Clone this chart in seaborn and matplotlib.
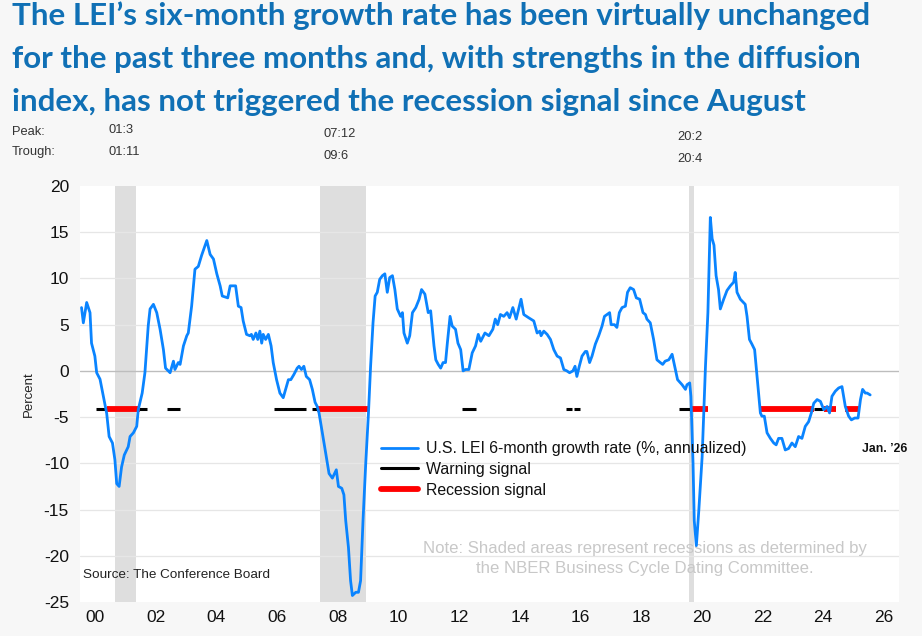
import numpy as np
import pandas as pd
import matplotlib
matplotlib.use("Agg")
import matplotlib.pyplot as plt
from matplotlib.lines import Line2D
import seaborn as sns

# ---------------- data ----------------
lei_year = [
    2000.05, 2000.11, 2000.22, 2000.33, 2000.38, 2000.49, 2000.55, 2000.66, 2000.77, 2000.88,
    2000.96, 2001.07, 2001.15, 2001.21, 2001.29, 2001.37, 2001.46, 2001.59, 2001.65, 2001.76,
    2001.87, 2001.92, 2002.05, 2002.14, 2002.25, 2002.31, 2002.42, 2002.53, 2002.64, 2002.75,
    2002.82, 2002.97, 2003.08, 2003.13, 2003.24, 2003.30, 2003.41, 2003.52, 2003.57, 2003.68,
    2003.79, 2003.90, 2004.01, 2004.18, 2004.29, 2004.40, 2004.51, 2004.62, 2004.69, 2004.87,
    2004.95, 2005.05, 2005.13, 2005.22, 2005.31, 2005.38, 2005.49, 2005.60, 2005.65, 2005.71,
    2005.80, 2005.86, 2005.93, 2005.99, 2006.04, 2006.12, 2006.21, 2006.30, 2006.37, 2006.48,
    2006.59, 2006.70, 2006.87, 2006.95, 2007.05, 2007.16, 2007.22, 2007.30, 2007.38, 2007.46,
    2007.57, 2007.66, 2007.75, 2007.82, 2007.88, 2007.99, 2008.10, 2008.21, 2008.32, 2008.45,
    2008.52, 2008.63, 2008.70, 2008.76, 2008.85, 2008.92, 2008.98, 2009.09, 2009.18, 2009.25,
    2009.33, 2009.42, 2009.51, 2009.58, 2009.66, 2009.73, 2009.80, 2009.88, 2009.97, 2010.05,
    2010.13, 2010.21, 2010.30, 2010.38, 2010.46, 2010.57, 2010.63, 2010.68, 2010.79, 2010.87,
    2010.96, 2011.07, 2011.18, 2011.26, 2011.37, 2011.48, 2011.56, 2011.67, 2011.73, 2011.81,
    2011.89, 2011.97, 2012.05, 2012.11, 2012.20, 2012.27, 2012.38, 2012.46, 2012.55, 2012.63,
    2012.71, 2012.82, 2012.93, 2013.04, 2013.13, 2013.21, 2013.35, 2013.48, 2013.61, 2013.69,
    2013.77, 2013.86, 2013.97, 2014.08, 2014.16, 2014.27, 2014.38, 2014.46, 2014.54, 2014.63,
    2014.79, 2014.96, 2015.07, 2015.16, 2015.20, 2015.29, 2015.40, 2015.51, 2015.62, 2015.73,
    2015.84, 2015.95, 2016.05, 2016.14, 2016.25, 2016.32, 2016.38, 2016.46, 2016.55, 2016.66,
    2016.71, 2016.80, 2016.88, 2016.99, 2017.10, 2017.21, 2017.29, 2017.46, 2017.51, 2017.62,
    2017.70, 2017.78, 2017.87, 2017.98, 2018.05, 2018.14, 2018.25, 2018.34, 2018.45, 2018.56,
    2018.64, 2018.69, 2018.80, 2018.91, 2019.02, 2019.13, 2019.21, 2019.29, 2019.41, 2019.52,
    2019.63, 2019.70, 2019.85, 2019.96, 2020.01, 2020.10, 2020.14, 2020.21, 2020.25, 2020.32,
    2020.40, 2020.51, 2020.62, 2020.70, 2020.75, 2020.78, 2020.84, 2020.90, 2020.97, 2021.05,
    2021.11, 2021.22, 2021.33, 2021.44, 2021.55, 2021.60, 2021.66, 2021.77, 2021.93, 2021.99,
    2022.07, 2022.15, 2022.24, 2022.30, 2022.37, 2022.43, 2022.48, 2022.56, 2022.65, 2022.76,
    2022.87, 2022.95, 2023.03, 2023.14, 2023.25, 2023.36, 2023.47, 2023.58, 2023.69, 2023.80,
    2023.91, 2024.02, 2024.11, 2024.19, 2024.30, 2024.41, 2024.52, 2024.63, 2024.71, 2024.79,
    2024.90, 2025.01, 2025.12, 2025.23, 2025.34, 2025.43, 2025.54, 2025.65, 2025.73, 2025.80,
    2025.89, 2025.95, 2026.05,
]
lei_value = [
    6.85, 5.2, 7.4, 6.3, 3.0, 1.6, -0.2, -0.9, -2.75, -4.6,
    -7.1, -7.8, -9.6, -12.2, -12.5, -10.4, -9.1, -8.2, -7.1, -6.7,
    -6.0, -4.2, -2.4, -0.2, 4.9, 6.7, 7.2, 6.3, 4.5, 2.3,
    0.3, -0.2, 1.05, 0.15, 0.9, 0.7, 2.7, 3.8, 4.1, 7.0,
    11.0, 11.3, 12.5, 14.1, 12.6, 12.1, 10.5, 9.2, 8.1, 7.9,
    9.2, 9.2, 9.2, 7.0, 6.85, 5.4, 3.95, 3.8, 3.95, 3.4,
    4.1, 3.4, 4.3, 3.0, 3.95, 3.4, 3.95, 2.7, 0.9, -0.95,
    -2.4, -2.9, -0.95, -0.95, -0.4, 0.3, 0.5, 0.15, 0.5, -0.6,
    -0.95, -2.0, -3.4, -3.85, -4.55, -6.7, -8.9, -11.1, -11.6, -10.7,
    -12.5, -12.7, -13.4, -16.2, -19.1, -22.7, -24.3, -23.95, -23.95, -22.7,
    -16.2, -10.0, -4.55, 0.5, 5.2, 8.1, 8.5, 9.9, 10.3, 10.5,
    8.5, 10.1, 10.3, 8.8, 6.7, 5.9, 6.3, 4.1, 3.0, 3.8,
    6.3, 6.85, 7.75, 8.8, 8.3, 6.3, 6.5, 2.7, 1.2, 0.7,
    0.3, 0.9, 0.9, 3.0, 5.9, 4.85, 4.5, 3.0, 2.3, 0.0,
    0.15, 0.15, 1.95, 2.7, 3.95, 3.2, 4.1, 3.8, 4.5, 5.6,
    5.0, 6.1, 5.9, 6.3, 5.75, 6.85, 5.6, 6.7, 7.75, 6.1,
    5.75, 5.4, 4.1, 4.3, 3.8, 4.3, 3.95, 3.4, 2.3, 1.6,
    1.4, 0.15, 0.0, -0.2, 0.0, 0.5, -0.6, 0.5, 1.6, 2.1,
    2.1, 0.9, 1.6, 2.9, 3.8, 4.85, 5.9, 6.3, 5.0, 5.0,
    4.7, 6.3, 6.85, 7.0, 8.5, 9.0, 8.8, 7.9, 7.75, 6.3,
    6.1, 5.6, 5.2, 3.4, 1.2, 0.9, 0.7, 1.05, 1.2, 1.8,
    0.15, -0.95, -1.5, -2.0, -1.5, -1.3, -2.75, -10.0, -16.2, -18.9,
    -15.1, -9.3, 0.5, 6.3, 12.5, 16.6, 14.3, 13.6, 10.3, 8.8,
    6.7, 7.75, 8.7, 9.2, 9.6, 10.65, 8.5, 7.75, 7.2, 5.9,
    3.4, 2.9, 2.3, 0.15, -2.4, -4.55, -4.9, -4.9, -6.7, -7.3,
    -7.8, -8.0, -7.3, -7.3, -8.55, -8.4, -7.8, -8.2, -7.1, -7.3,
    -6.0, -5.5, -4.55, -3.5, -3.1, -3.3, -4.2, -3.85, -4.55, -2.75,
    -2.2, -1.85, -1.7, -3.85, -4.9, -5.3, -5.1, -5.1, -3.1, -2.0,
    -2.4, -2.4, -2.6,
]

recession_start = [2001 + 2 / 12, 2007 + 11 / 12, 2020 + 1 / 12]
recession_end = [2001 + 10 / 12, 2009 + 5 / 12, 2020 + 3 / 12]
peak_labels = ["01:3", "07:12", "20:2"]
trough_labels = ["01:11", "09:6", "20:4"]

signal_level = -4.15
warning_start = [2000.52, 2002.86, 2006.41, 2007.66, 2012.60, 2016.03, 2016.27, 2019.76, 2024.19]
warning_end = [2002.20, 2003.30, 2007.46, 2007.85, 2013.04, 2016.22, 2016.47, 2020.12, 2024.52]
recsig_start = [2000.88, 2007.82, 2020.10, 2022.37, 2024.52, 2025.23]
recsig_end = [2001.98, 2009.53, 2020.70, 2024.19, 2024.92, 2025.70]

year_ticks = list(range(2000, 2028))
label_years = list(range(2000, 2027, 2))
label_text = ["00", "02", "04", "06", "08", "10", "12", "14", "16", "18", "20", "22", "24", "26"]
y_ticks = [-25, -20, -15, -10, -5, 0, 5, 10, 15, 20]

title = ("The LEI\u2019s six-month growth rate has been virtually unchanged\n"
         "for the past three months and, with strengths in the diffusion\n"
         "index, has not triggered the recession signal since August")

# ---------------- style ----------------
sns.set_theme(style="white")
plt.rcParams["font.family"] = ["Liberation Sans", "DejaVu Sans"]
BG = "#F7F7F7"
BLUE = "#0A84FF"

fig = plt.figure(figsize=(9.22, 6.36), dpi=100, facecolor=BG)
ax = fig.add_axes([80 / 922, 34 / 636, 819 / 922, 416 / 636])
ax.set_facecolor("white")

# recession shading
for s, e in zip(recession_start, recession_end):
    ax.axvspan(s, e, color="#DEDEDE", lw=0, zorder=0)

# gridlines
for v in y_ticks:
    if v == 0:
        ax.axhline(v, color="#BDBDBD", lw=1.0, zorder=1)
    elif v not in (-25, 20):
        ax.axhline(v, color="#E6E6E6", lw=0.9, zorder=1)

df = pd.DataFrame({"year": lei_year, "value": lei_value})
sns.lineplot(data=df, x="year", y="value", ax=ax, color=BLUE, lw=2.0, zorder=5,
             legend=False)

ax.hlines([signal_level] * len(warning_start), warning_start, warning_end,
          color="black", lw=2.2, zorder=3)
ax.hlines([signal_level] * len(recsig_start), recsig_start, recsig_end,
          color="#FF0000", lw=4.2, zorder=4)

ax.set_xlim(2000, 2027)
ax.set_ylim(-25, 20)
for sp in ax.spines.values():
    sp.set_visible(False)

ax.set_yticks(y_ticks)
ax.set_yticklabels([str(v) for v in y_ticks], fontsize=12.5, color="#111111")
ax.tick_params(axis="y", length=0, pad=8)

ax.set_xticks(year_ticks)
ax.set_xticklabels([""] * len(year_ticks))
ax.tick_params(axis="x", which="major", direction="in", length=6, width=0.8,
               color="#A0A0A0")
ax.set_xticks([y + 0.5 for y in label_years], minor=True)
ax.set_xticklabels(label_text, minor=True, fontsize=12.5, color="#111111")
ax.tick_params(axis="x", which="minor", length=0, pad=6)

ax.set_xlabel("")
ax.set_ylabel("Percent", fontsize=9.5, color="#222222", labelpad=6)

# legend
handles = [
    Line2D([], [], color=BLUE, lw=2.0),
    Line2D([], [], color="black", lw=2.2),
    Line2D([], [], color="#FF0000", lw=4.2),
]
labels = ["U.S. LEI 6-month growth rate (%, annualized)", "Warning signal", "Recession signal"]
leg = ax.legend(handles, labels, loc="upper left", bbox_to_anchor=(0.36, 0.402),
                frameon=False, fontsize=11.4, handlelength=2.3, handletextpad=0.55,
                labelspacing=0.36, borderaxespad=0)
for t in leg.get_texts():
    t.set_color("#111111")

ax.text(2025.78, -8.4, "Jan. \u201926", fontsize=8.8, fontweight="bold",
        color="#111111", va="center", ha="left")

ax.text(0.004, 0.065, "Source: The Conference Board", transform=ax.transAxes,
        fontsize=9.7, color="#222222", va="center", ha="left")
ax.text(0.69, 0.105, "Note: Shaded areas represent recessions as determined by\n"
        "the NBER Business Cycle Dating Committee.", transform=ax.transAxes,
        fontsize=12.1, color="#C8C8C8", va="center", ha="center", linespacing=1.4)

# title
fig.text(12 / 922, 1 - 1 / 636, title, fontsize=22.6, fontweight="bold",
         color="#1070B5", va="top", ha="left", linespacing=1.66,
         family=["Lato", "DejaVu Sans"])

# peak / trough labels
fig.text(12 / 922, 1 - 132 / 636, "Peak:", fontsize=9.3, color="#333333", va="center")
fig.text(12 / 922, 1 - 152 / 636, "Trough:", fontsize=9.3, color="#333333", va="center")
label_x = [108, 324, 677]
label_dy = [0, 4, 7]
for px, dy, pk, tr in zip(label_x, label_dy, peak_labels, trough_labels):
    fig.text(px / 922, 1 - (130 + dy) / 636, pk, fontsize=9.3, color="#333333", va="center")
    fig.text(px / 922, 1 - (152 + dy) / 636, tr, fontsize=9.3, color="#333333", va="center")

fig.savefig("out.png", dpi=100, facecolor=BG)
